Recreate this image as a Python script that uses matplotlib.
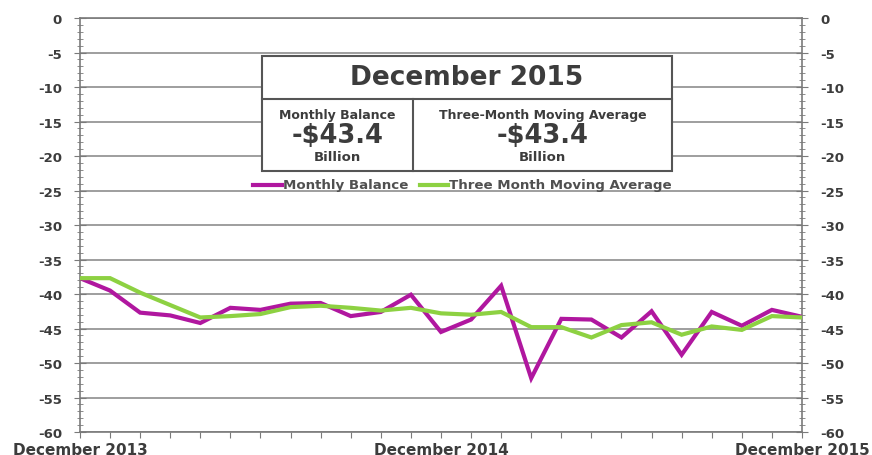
"""Trade balance, Dec 2013 - Dec 2015: monthly vs three-month moving average."""
import matplotlib
matplotlib.use("Agg")
import matplotlib.pyplot as plt
from matplotlib.patches import Rectangle
from matplotlib.lines import Line2D
from matplotlib.ticker import MultipleLocator, FuncFormatter

# --- palette -------------------------------------------------------------
PURPLE = "#B0179F"
GREEN = "#8DD142"
INK = "#3C3C3C"
GRID = "#8E8E8E"
FRAME = "#7A7A7A"

# --- data (billions of dollars) -----------------------------------------
months = list(range(25))  # Dec 2013 .. Dec 2015
tick_labels = {0: "December 2013", 12: "December 2014", 24: "December 2015"}
monthly = [-37.7, -39.5, -42.7, -43.1, -44.2, -42.0, -42.3, -41.4, -41.3,
           -43.2, -42.6, -40.1, -45.5, -43.7, -38.8, -52.2, -43.6, -43.7,
           -46.3, -42.5, -48.8, -42.6, -44.6, -42.3, -43.3]
moving_avg = [-37.7, -37.7, -39.8, -41.6, -43.4, -43.2, -42.9, -41.9, -41.7,
              -42.0, -42.4, -42.0, -42.8, -43.0, -42.6, -44.8, -44.8, -46.3,
              -44.5, -44.1, -45.9, -44.7, -45.2, -43.2, -43.4]
latest_month = "December 2015"
latest_balance = "-$43.4"
latest_avg = "-$43.4"

plt.rcParams["font.family"] = ["DejaVu Sans"]

fig = plt.figure(figsize=(8.72, 4.56), dpi=100)
ax = fig.add_axes([0.0917, 0.0504, 0.828, 0.9079])

ax.plot(months, monthly, color=PURPLE, lw=3.0, solid_joinstyle="miter", zorder=3)
ax.plot(months, moving_avg, color=GREEN, lw=3.0, solid_joinstyle="miter", zorder=3)

ax.set_xlim(0, 24)
ax.set_ylim(-60, 0)
ax.yaxis.set_major_locator(MultipleLocator(5))
ax.yaxis.set_minor_locator(MultipleLocator(1))
ax.yaxis.set_major_formatter(FuncFormatter(lambda v, p: f"{v:g}".replace("\u2212", "-")))
ax.grid(axis="y", which="major", color=GRID, lw=1.2, zorder=1)

ax.set_xticks(months)
ax.set_xticklabels([tick_labels.get(m, "") for m in months])
ax.tick_params(axis="x", direction="out", length=4, color=FRAME, pad=3,
               labelsize=11, labelcolor=INK)
for lbl in ax.get_xticklabels():
    lbl.set_fontweight("bold")

ax.tick_params(axis="y", which="both", direction="inout", color=FRAME,
               left=True, right=True, labelleft=True, labelright=True,
               labelsize=9.5, labelcolor=INK)
ax.tick_params(axis="y", which="major", length=8, pad=9)
ax.tick_params(axis="y", which="minor", length=5)
for t in ax.yaxis.get_major_ticks():
    t.label1.set_fontweight("bold")
    t.label2.set_fontweight("bold")

for s in ax.spines.values():
    s.set_color(FRAME)
    s.set_linewidth(1.2)

# --- headline box --------------------------------------------------------
bx0, bx1, by0, by1 = 0.252, 0.820, 0.630, 0.908
bmid_x, bmid_y = 0.461, 0.804
ax.add_patch(Rectangle((bx0, by0), bx1 - bx0, by1 - by0, transform=ax.transAxes,
                       facecolor="white", edgecolor="#555555", lw=1.5, zorder=5))
ax.add_line(Line2D([bx0, bx1], [bmid_y, bmid_y], transform=ax.transAxes,
                   color="#555555", lw=1.5, zorder=6))
ax.add_line(Line2D([bmid_x, bmid_x], [by0, bmid_y], transform=ax.transAxes,
                   color="#555555", lw=1.5, zorder=6))

ax.text((bx0 + bx1) / 2, 0.857, latest_month, transform=ax.transAxes,
        ha="center", va="center", fontsize=19, fontweight="bold", color=INK, zorder=7)
for cx, head, val in [((bx0 + bmid_x) / 2, "Monthly Balance", latest_balance),
                      ((bmid_x + bx1) / 2, "Three-Month Moving Average", latest_avg)]:
    ax.text(cx, 0.768, head, transform=ax.transAxes, ha="center", va="center",
            fontsize=9, fontweight="bold", color=INK, zorder=7)
    ax.text(cx, 0.717, val, transform=ax.transAxes, ha="center", va="center",
            fontsize=18.5, fontweight="bold", color=INK, zorder=7)
    ax.text(cx, 0.665, "Billion", transform=ax.transAxes, ha="center", va="center",
            fontsize=9.5, fontweight="bold", color=INK, zorder=7)

# --- legend --------------------------------------------------------------
for x0, x1, col, name in [(0.240, 0.280, PURPLE, "Monthly Balance"),
                          (0.471, 0.510, GREEN, "Three Month Moving Average")]:
    ax.add_line(Line2D([x0, x1], [0.597, 0.597], transform=ax.transAxes,
                       color=col, lw=3.0, zorder=7))
    ax.text(x1 + 0.001, 0.597, name, transform=ax.transAxes, ha="left", va="center",
            fontsize=9.6, fontweight="bold", color="#505050", zorder=7)

fig.savefig("out.png", dpi=100)
